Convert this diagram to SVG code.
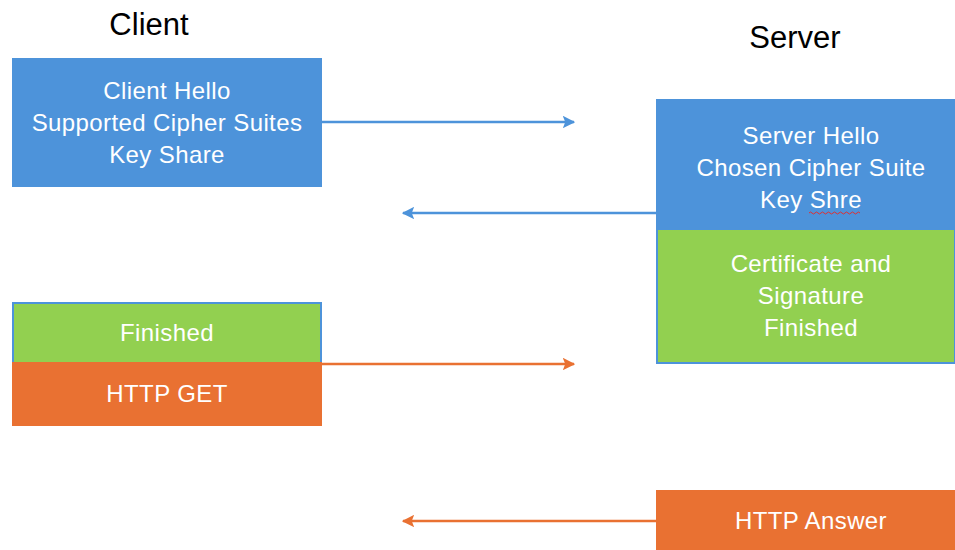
<svg xmlns="http://www.w3.org/2000/svg" width="955" height="550" viewBox="0 0 955 550">
<defs>
<style>
.t{font-family:"Liberation Sans","Open Sans",Arial,sans-serif;font-size:24px;letter-spacing:0.4px;fill:#ffffff;text-anchor:middle}
.h{font-family:"Liberation Sans","Open Sans",Arial,sans-serif;font-size:31px;fill:#000000;text-anchor:middle}
.blue{fill:#4D93DA}
.green{fill:#92D050}
.orange{fill:#E97132}
.cb{stroke:#4D93DA;stroke-width:2.5;fill:none}
.co{stroke:#E97132;stroke-width:2.5;fill:none}
</style>
<marker id="ab" viewBox="0 0 10 10" refX="9" refY="5" markerWidth="5" markerHeight="5" orient="auto"><path d="M0,0 L10,5 L0,10 L2,5 Z" fill="#4D93DA"/></marker>
<marker id="ao" viewBox="0 0 10 10" refX="9" refY="5" markerWidth="5" markerHeight="5" orient="auto"><path d="M0,0 L10,5 L0,10 L2,5 Z" fill="#E97132"/></marker>
</defs>
<rect width="955" height="550" fill="#ffffff"/>
<text class="h" x="149" y="35">Client</text>
<text class="h" x="795" y="48">Server</text>
<g id="connectors">
<line class="cb" x1="322" y1="122" x2="574" y2="122" marker-end="url(#ab)"/>
<line class="cb" x1="656" y1="213" x2="403" y2="213" marker-end="url(#ab)"/>
<line class="co" x1="322" y1="364" x2="574" y2="364" marker-end="url(#ao)"/>
<line class="co" x1="656" y1="521" x2="403" y2="521" marker-end="url(#ao)"/>
</g>
<g id="client-hello">
<rect class="blue" x="12" y="58" width="310" height="129"/>
<text class="t" x="167" y="99">Client Hello</text>
<text class="t" x="167" y="131">Supported Cipher Suites</text>
<text class="t" x="167" y="163">Key Share</text>
</g>
<g id="server-hello">
<rect class="blue" x="656" y="99" width="299" height="131"/>
<text class="t" x="811" y="144">Server Hello</text>
<text class="t" x="811" y="176">Chosen Cipher Suite</text>
<text class="t" x="811" y="208">Key Shre</text>
<path d="M809,213 q1.5,-2 3,0 t3,0 t3,0 t3,0 t3,0 t3,0 t3,0 t3,0 t3,0 t3,0 t3,0 t3,0 t3,0 t3,0 t3,0 t3,0 t3,0" fill="none" stroke="#e03030" stroke-width="1"/>
</g>
<g id="server-cert">
<rect class="green" x="657" y="229" width="298" height="134" stroke="#4D93DA" stroke-width="2"/>
<text class="t" x="811" y="272">Certificate and</text>
<text class="t" x="811" y="304">Signature</text>
<text class="t" x="811" y="336">Finished</text>
</g>
<g id="client-finished">
<rect class="green" x="13" y="303" width="308" height="60" stroke="#4D93DA" stroke-width="2"/>
<text class="t" x="167" y="341">Finished</text>
</g>
<g id="http-get">
<rect class="orange" x="12" y="362" width="310" height="64"/>
<text class="t" x="167" y="402">HTTP GET</text>
</g>
<g id="http-answer">
<rect class="orange" x="656" y="490" width="299" height="60"/>
<text class="t" x="811" y="529">HTTP Answer</text>
</g>
</svg>
